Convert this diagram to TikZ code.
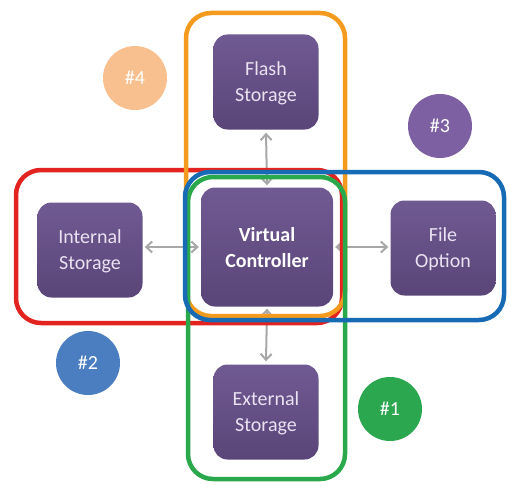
\documentclass[tikz,border=0pt]{standalone}
\usepackage{fontspec}
\setmainfont{Carlito}
\usetikzlibrary{arrows.meta}

\definecolor{boxtop}{HTML}{705A92}
\definecolor{boxbot}{HTML}{5A4578}
\definecolor{boxtext}{HTML}{EAE2F2}
\definecolor{linkgray}{HTML}{A8A8A8}
\definecolor{grpred}{HTML}{E3231F}
\definecolor{grporange}{HTML}{F49A1E}
\definecolor{grpgreen}{HTML}{2AA84C}
\definecolor{grpblue}{HTML}{176BB5}
\definecolor{tagpeach}{HTML}{F9C08F}
\definecolor{tagpurple}{HTML}{7D60A1}
\definecolor{tagblue}{HTML}{4B7EC1}
\definecolor{taggreen}{HTML}{2BA84F}

\begin{document}
\begin{tikzpicture}[
        x=1pt,y=-1pt,
        store/.style={rectangle,rounded corners=14pt,top color=boxtop,bottom color=boxbot,
            draw=none,text=boxtext,align=center,font=\fontsize{20}{26}\selectfont,
            minimum width=105pt,minimum height=95pt,inner sep=0pt,text depth=0pt},
        ctrl/.style={store,minimum width=132pt,minimum height=119pt,text=white,
            font=\fontsize{20}{26}\selectfont\bfseries},
        link/.style={linkgray,line width=2pt,{Straight Barb[length=6pt,width=11pt]}-{Straight Barb[length=6pt,width=11pt]}},
        group/.style={line width=4.5pt,rounded corners=25pt},
        tag/.style={circle,minimum size=64pt,inner sep=0pt,text=white,font=\fontsize{20}{24}\selectfont}
    ]
        \useasboundingbox (0,0) rectangle (508,484);

        % Define the nodes
        \node[ctrl] (vc) at (267,247) {Virtual\\Controller};
        \node[store] (flash) at (266,82) {Flash\\Storage};
        \node[store] (internal) at (90,250) {Internal\\Storage};
        \node[store] (file) at (443,248) {File\\Option};
        \node[store] (external) at (266,412) {External\\Storage};

        % Links to the controller
        \draw[link] ([yshift=-3pt]flash.south) -- ([yshift=2pt]vc.north);
        \draw[link] ([xshift=2pt]internal.east |- vc) -- ([xshift=-2pt]vc.west);
        \draw[link] ([xshift=2pt]vc.east) -- ([xshift=-2pt]file.west |- vc);
        \draw[link] ([yshift=-2pt]vc.south) -- ([yshift=3pt]external.north);

        % Groups round the controller
        \draw[group,grpred] (16,170) rectangle (342,323);
        \draw[group,grporange] (186,13) rectangle (345,316);
        \draw[group,grpgreen] (188,177) rectangle (345,479);
        \draw[group,grpblue] (185,172) rectangle (504,320);

        % Group tags
        \node[tag,fill=tagpeach] (t4) at (135,78) {\#4};
        \node[tag,fill=tagpurple] (t3) at (440,126) {\#3};
        \node[tag,fill=tagblue] (t2) at (88,363) {\#2};
        \node[tag,fill=taggreen] (t1) at (390,409) {\#1};
\end{tikzpicture}
\end{document}
